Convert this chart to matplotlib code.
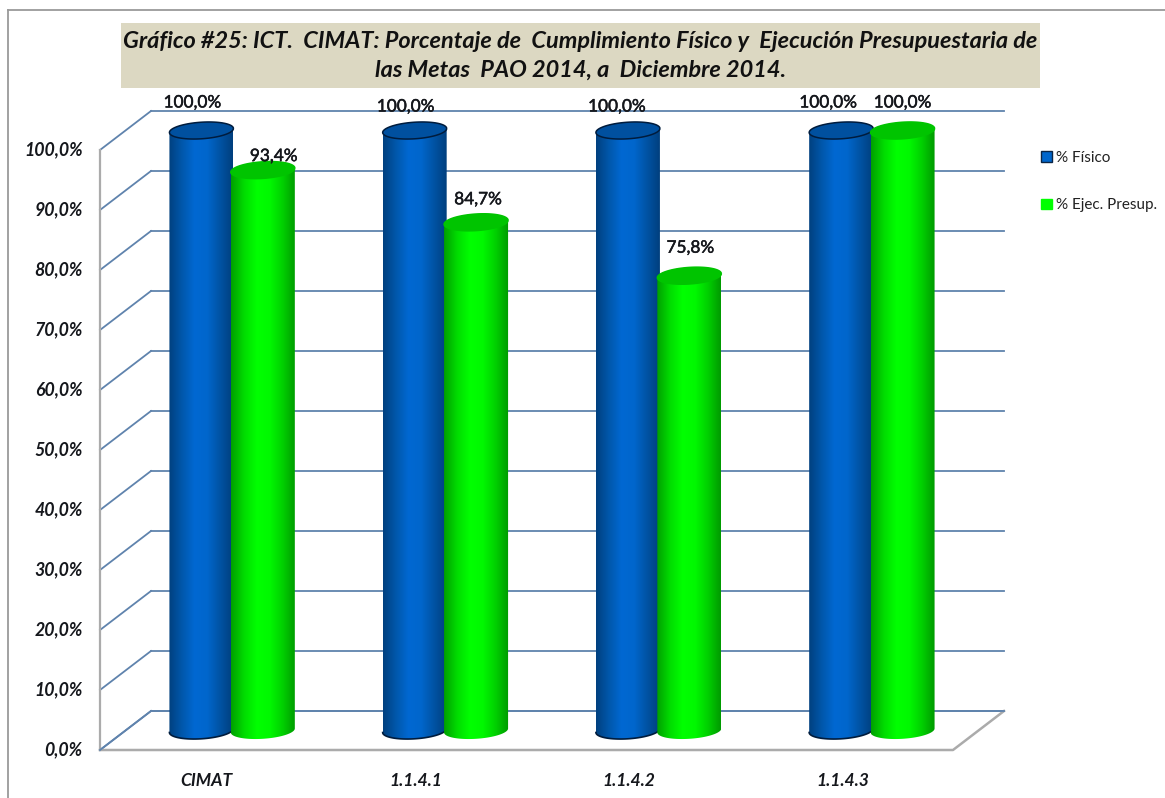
import numpy as np
import matplotlib
matplotlib.use("Agg")
import matplotlib.pyplot as plt
import matplotlib.patheffects as pe
from matplotlib.colors import LinearSegmentedColormap
from matplotlib.patches import Patch, Rectangle, PathPatch
from matplotlib.path import Path
from matplotlib.transforms import ScaledTranslation

plt.rcParams['font.family'] = ['Lato', 'DejaVu Sans']

categories = ["CIMAT", "1.1.4.1", "1.1.4.2", "1.1.4.3"]
fisico = [100.0, 100.0, 100.0, 100.0]
ejec = [93.4, 84.7, 75.8, 100.0]
series_names = ["% Físico", "% Ejec. Presup."]
yticks = list(range(0, 101, 10))
title = ("Gráfico #25: ICT.  CIMAT: Porcentaje de  Cumplimiento Físico y  Ejecución Presupuestaria de\n"
         "las Metas  PAO 2014, a  Diciembre 2014.")

W, H = 1165, 798
fig = plt.figure(figsize=(W / 100, H / 100), dpi=100, facecolor="white")
L, R, T, B = 100, 953, 150, 750
ax = fig.add_axes([L / W, 1 - B / H, (R - L) / W, (B - T) / H])
ax.set_xlim(0, 4)
ax.set_ylim(0, 100)
ax.patch.set_alpha(0)
for s in ax.spines.values():
    s.set_visible(False)

px = 4 / (R - L)      # data x per pixel
py = 100 / (B - T)    # data y per pixel
DX, DY = 51 * px, 39 * py   # oblique depth

GRID = "#5f83ad"
AXC = "#ababab"
for v in yticks:
    ax.plot([DX, 4 + DX], [v + DY, v + DY], color=GRID, lw=1.3, clip_on=False, zorder=1)
    ax.plot([0, DX], [v, v + DY], color=GRID, lw=1.3, clip_on=False, zorder=1)
ax.plot([0, 0], [0, 100], color=AXC, lw=1.6, clip_on=False, zorder=1.5)
ax.plot([0, 4, 4 + DX], [0, 0, DY], color=AXC, lw=1.8, clip_on=False, zorder=1.5)
ax.plot([0, DX], [0, DY], color=GRID, lw=1.3, clip_on=False, zorder=1.6)
ax.plot([DX, 4 + DX], [DY, DY], color=GRID, lw=1.3, clip_on=False, zorder=1.6)

blue_map = LinearSegmentedColormap.from_list("b", ["#00407f", "#0057ab", "#0068d2", "#0066cc", "#0053a4", "#003f7e"])
green_map = LinearSegmentedColormap.from_list("g", ["#00a000", "#00dc00", "#00ff00", "#00f800", "#00d000", "#009a00"])

HW = 32 * px
EA = 8.3 * py
TILT = 2.0 * py
SHIFT = 30.7 * px


def cylinder(cx, val, cmap, top_col, edge, z):
    x0 = cx + DX / 2
    y0 = DY / 2
    t = np.linspace(0, np.pi, 60)
    xs_top = x0 + HW * np.cos(t)
    ys_top = y0 + val + EA * np.sin(t) + TILT * np.cos(t)
    xs_bot = x0 + HW * np.cos(t + np.pi)
    ys_bot = y0 + EA * np.sin(t + np.pi) + TILT * np.cos(t + np.pi)
    sil = Path(np.r_[np.c_[xs_top, ys_top], np.c_[xs_bot, ys_bot], [[xs_top[0], ys_top[0]]]])
    grad = np.linspace(0, 1, 128).reshape(1, -1)
    im = ax.imshow(grad, cmap=cmap, extent=(x0 - HW, x0 + HW, y0 - EA - TILT, y0 + val + EA + TILT),
                   aspect="auto", zorder=z)
    clip = PathPatch(sil, transform=ax.transData, fc="none", ec="none", clip_on=False)
    ax.add_patch(clip)
    im.set_clip_path(clip)
    im.set_clip_box(fig.bbox)
    if edge:
        ax.plot(xs_bot, ys_bot, color="#001c3d", lw=1.2, zorder=z + 0.1, clip_on=False)
    a = np.linspace(0, 2 * np.pi, 100)
    cap = Path(np.c_[x0 + HW * np.cos(a), y0 + val + EA * np.sin(a) + TILT * np.cos(a)])
    ax.add_patch(PathPatch(cap, fc=top_col, ec=edge or top_col, lw=1.1, zorder=z + 0.2, clip_on=False))


for i in range(len(categories)):
    c = i + 0.5
    cylinder(c - SHIFT, fisico[i], blue_map, "#00509f", "#001c3d", 3 + i)
for i in range(len(categories)):
    c = i + 0.5
    cylinder(c + SHIFT, ejec[i], green_map, "#00c400", None, 8 + i)
ax.set_xlim(0, 4)
ax.set_ylim(0, 100)

# data labels, as pixel offsets from the cylinder's centre / value
label_off_b = [(-9, 28), (-9, 24), (-11, 24), (-13, 28)]
label_off_g = [(11, 14), (2, 23), (1, 28), (0, 28)]
TXT = "#15171c"
for i in range(4):
    c = i + 0.5
    for cx, v, off in ((c - SHIFT, fisico[i], label_off_b[i]), (c + SHIFT, ejec[i], label_off_g[i])):
        ax.annotate(f"{v:.1f}%".replace(".", ","), xy=(cx + DX / 2, v + DY / 2),
                    xytext=(off[0] * 0.72, off[1] * 0.72), textcoords="offset points",
                    ha="center", va="center", fontsize=12.4, color=TXT, zorder=20,
                    annotation_clip=False,
                    path_effects=[pe.withStroke(linewidth=0.35, foreground=TXT)])

ax.set_yticks(yticks)
ax.set_yticklabels([f"{v:.1f}%".replace(".", ",") for v in yticks],
                   fontsize=12.8, fontweight="bold", fontstyle="italic", color=TXT)
ax.set_xticks([i + 0.5 for i in range(4)])
ax.set_xticklabels(categories, fontsize=12.6, fontweight="bold", fontstyle="italic", color=TXT)
ax.tick_params(axis="y", length=0, pad=12.5)
ax.tick_params(axis="x", length=0, pad=16.5)
for lab in ax.get_yticklabels():
    lab.set_transform(lab.get_transform() + ScaledTranslation(0, 1.5 / 72, fig.dpi_scale_trans))
for lab in ax.get_xticklabels()[1:]:
    lab.set_transform(lab.get_transform() + ScaledTranslation(-4 / 100, 0, fig.dpi_scale_trans))

# title band
fig.patches.append(Rectangle((121 / W, 1 - 88 / H), 919 / W, 65 / H, transform=fig.transFigure,
                             fc="#dcd8c2", ec="none", zorder=5))
fig.text(580.5 / W, 1 - 56 / H, title, ha="center", va="center", fontsize=16.9,
         fontweight="bold", fontstyle="italic", color="#111111", linespacing=1.42, zorder=6)

# frame
fig.add_artist(plt.Line2D([7.5 / W, 1], [1 - 10 / H] * 2, color="#9a9a9a", lw=1.3))
fig.add_artist(plt.Line2D([7.5 / W] * 2, [0, 1 - 10 / H], color="#9a9a9a", lw=1.3))

handles = [Patch(fc="#0066cc", ec="#0b2545", lw=1.0), Patch(fc="#00ff00", ec="#00ff00", lw=1.0)]
fig.legend(handles, series_names, loc="upper left", bbox_to_anchor=(1035 / W, 1 - 145 / H),
           frameon=False, fontsize=11, handlelength=0.7, handleheight=0.7, handletextpad=0.3,
           labelspacing=2.17, labelcolor="#222222", borderpad=0.4, borderaxespad=0)

fig.savefig("out.png", dpi=100)
